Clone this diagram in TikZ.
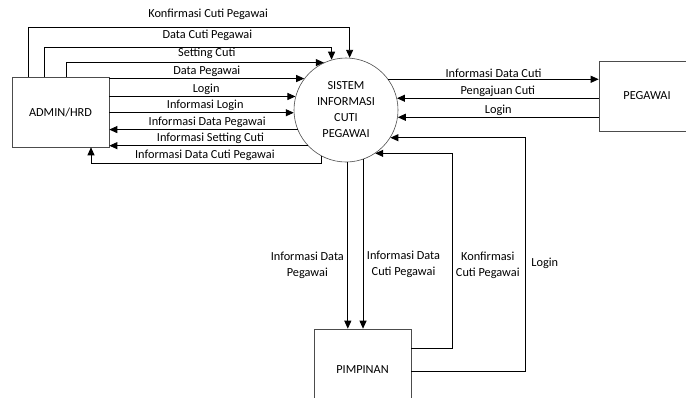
\documentclass[tikz,border=0pt]{standalone}
\usepackage{fontspec}
\setmainfont{Carlito}
\usepackage{tikz}
\usetikzlibrary{arrows.meta}
\tikzset{
    normal/.style={draw, semithick},
    ent/.style={style=normal, draw=black!70, minimum width=97pt, minimum height=70pt}, % external entities
    proc/.style={style=normal, draw=black!70, circle, minimum size=104pt, inner sep=0pt, align=center}, % the process
    e/.style={draw, line width=0.9pt, -{Triangle[length=8pt,width=7pt]}}, % data flow
    lbl/.style={above, inner sep=1.5pt}, % label over a flow
    vlbl/.style={align=center, inner sep=3.5pt} % label beside a vertical flow
}

\begin{document}
\begin{tikzpicture}[x=1pt, y=-1pt, font=\fontsize{12.3}{16}\selectfont]
        \useasboundingbox (0,0) rectangle (686,397);

        \node[ent] (admin) at (60.5,112) {ADMIN/HRD};
        \node[proc] (sistem) at (346,110) {SISTEM\\INFORMASI\\CUTI\\PEGAWAI};
        \node[ent, minimum width=96pt] (pegawai) at (647,96) {PEGAWAI};
        \node[ent, minimum height=82pt] (pimpinan) at (362.5,370) {PIMPINAN};

        \coordinate (dcp_corner) at (91,163);

        % admin and sistem
        \draw[e] (admin.north -| 28,0) |- node[lbl, pos=0.78, yshift=5pt] {Konfirmasi Cuti Pegawai} (sistem.86.7 |- 0,27) -- (sistem.86.7);
        \draw[e] (admin.north -| 44,0) |- node[lbl, pos=0.784, yshift=4pt] {Data Cuti Pegawai} (sistem.106.8 |- 0,47) -- (sistem.106.8);
        \draw[e] (admin.north -| 66,0) |- node[lbl, pos=0.773, yshift=2pt] {Setting Cuti} (sistem.115.4);
        \draw[e] (admin.east |- sistem.143.4) -- node[lbl] {Data Pegawai} (sistem.143.4);
        \draw[e] (admin.east |- sistem.165.5) -- node[lbl, pos=0.52] {Login} (sistem.165.5);
        \draw[e] (admin.east |- sistem.183.3) -- node[lbl, pos=0.52] {Informasi Login} (sistem.183.3);
        \draw[e] (sistem.202.6) -- node[lbl, pos=0.48] {Informasi Data Pegawai} (admin.east |- sistem.202.6);
        \draw[e] (sistem.223.8) -- node[lbl, pos=0.49] {Informasi Setting Cuti} (admin.east |- sistem.223.8);
        \draw[e] (sistem.242.5) |- node[lbl, pos=0.753] {Informasi Data Cuti Pegawai} (dcp_corner) -- (admin.south -| dcp_corner);

        % pegawai and sistem
        \draw[e] (sistem.36.6) -- node[lbl] {Informasi Data Cuti} (pegawai.west |- sistem.36.6);
        \draw[e] (pegawai.west |- sistem.13.3) -- node[lbl] {Pengajuan Cuti} (sistem.13.3);
        \draw[e] (pegawai.west |- sistem.352.3) -- node[lbl] {Login} (sistem.352.3);

        % pimpinan and sistem
        \draw[e] (sistem.272.2) -- node[vlbl, left, pos=0.62] {Informasi Data\\Pegawai} (pimpinan.north -| sistem.272.2);
        \draw[e] (sistem.289.1) -- node[vlbl, right, pos=0.62] {Informasi Data\\Cuti Pegawai} (pimpinan.north -| sistem.289.1);
        \draw[e] (pimpinan.east |- 0,348) -| node[vlbl, right, pos=0.713] {Konfirmasi\\Cuti Pegawai} (sistem.304.2 -| 452,0) -- (sistem.304.2);
        \draw[e] (pimpinan.east |- 0,371) -| node[vlbl, right, pos=0.73, inner sep=6pt] {Login} (sistem.328.7 -| 525,0) -- (sistem.328.7);
      \end{tikzpicture}
\end{document}
